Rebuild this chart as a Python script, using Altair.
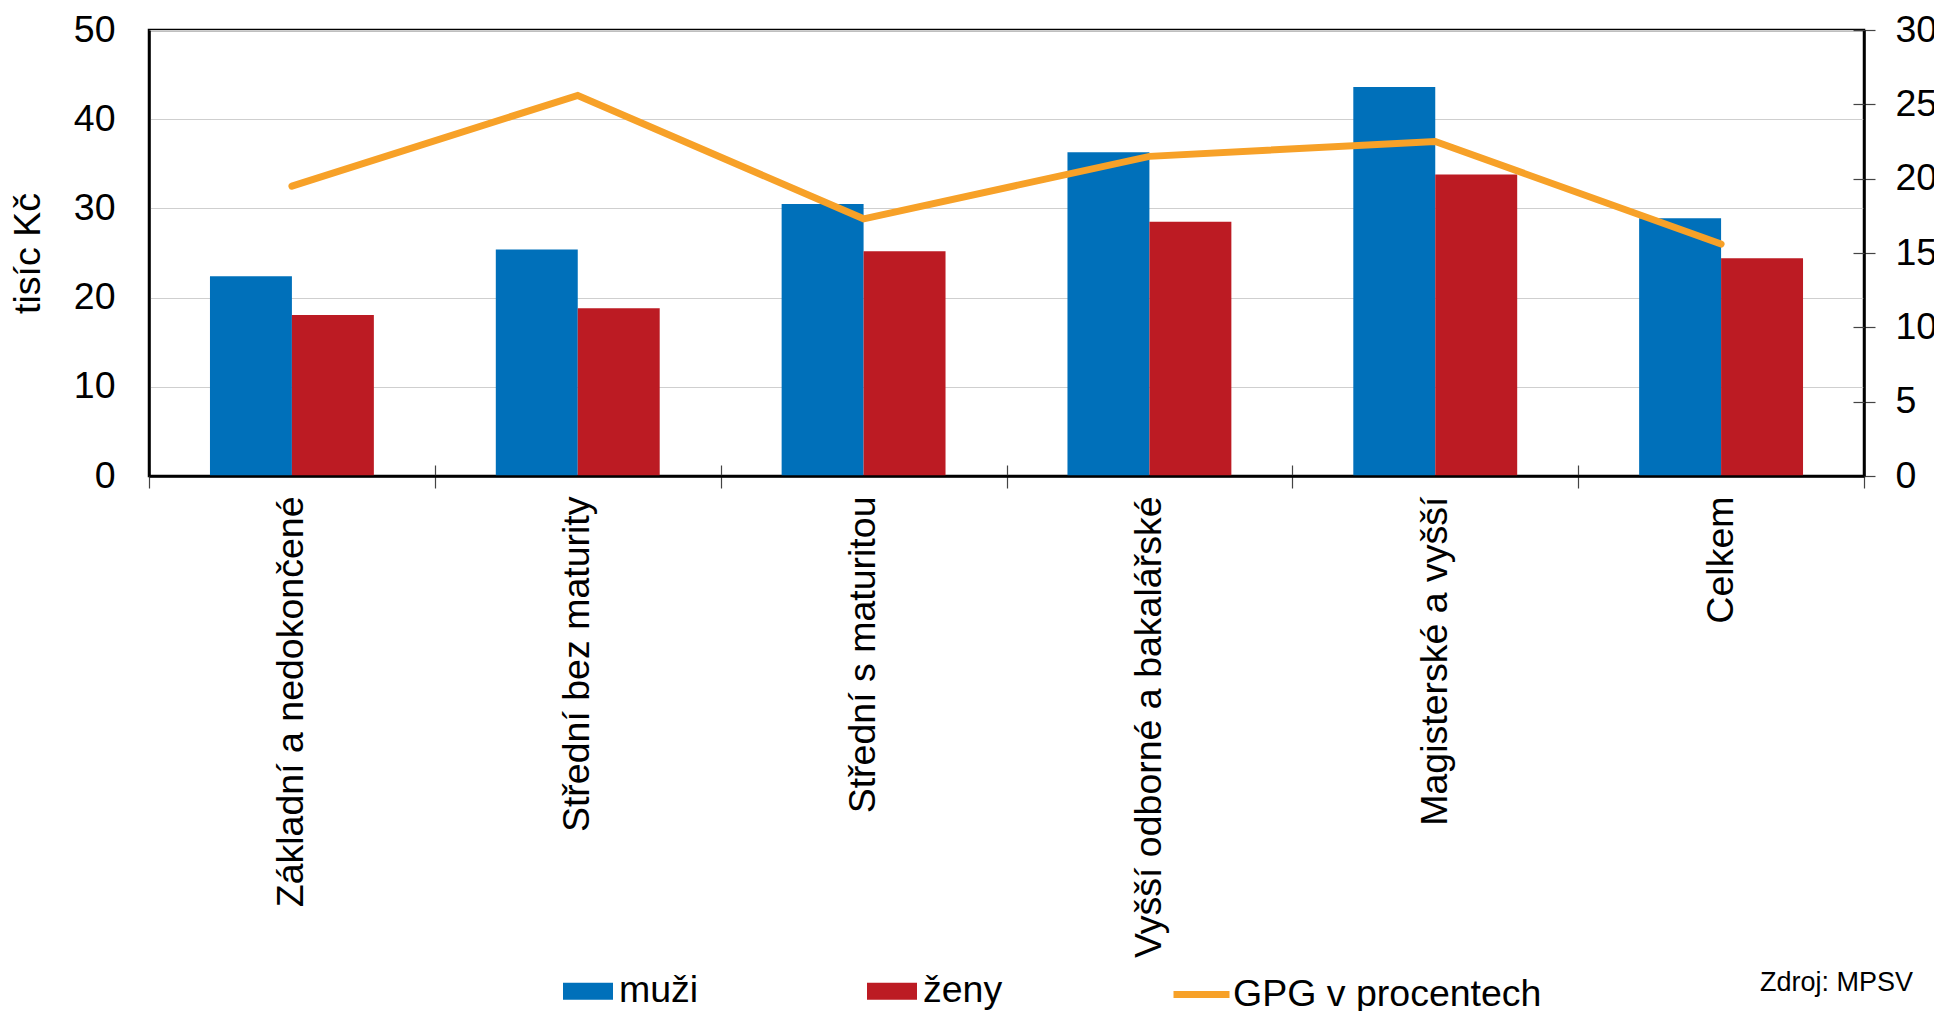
import altair as alt
import pandas as pd

categories = ["Základní a nedokončené", "Střední bez maturity", "Střední s maturitou",
              "Vyšší odborné a bakalářské", "Magisterské a vyšší", "Celkem"]
muzi = [22.4, 25.4, 30.5, 36.3, 43.6, 28.9]
zeny = [18.05, 18.8, 25.2, 28.5, 33.8, 24.4]
gpg = [19.5, 25.6, 17.3, 21.5, 22.5, 15.6]
bar_series = ["muži", "ženy"]
bar_colors = ["#0070BA", "#BC1B23"]
line_series = ["GPG v procentech"]
line_colors = ["#F7A128"]
left_ticks = [0, 10, 20, 30, 40, 50]
right_ticks = [0, 5, 10, 15, 20, 25, 30]
source_note = ["Zdroj: MPSV"]

FONT = "Liberation Sans"
FS = 37.5

bars_df = pd.DataFrame({
    "kategorie": categories * 2,
    "rada": [bar_series[0]] * len(categories) + [bar_series[1]] * len(categories),
    "hodnota": muzi + zeny,
})
line_df = pd.DataFrame({
    "kategorie": categories,
    "rada": [line_series[0]] * len(categories),
    "gpg": gpg,
})
note_df = pd.DataFrame({"t": source_note})

x_axis = alt.Axis(
    title=None, labelAngle=-90, labelAlign="right", labelBaseline="middle",
    labelPadding=8, labelFontSize=FS, labelFont=FONT, labelColor="black", labelLimit=800,
    tickBand="extent", tickSize=12, tickColor="#444444", tickWidth=1.2,
    domainColor="black", domainWidth=2.5, zindex=1,
)

bars = alt.Chart(bars_df).mark_bar().encode(
    x=alt.X("kategorie:N", sort=categories,
            scale=alt.Scale(paddingInner=0, paddingOuter=0), axis=x_axis),
    xOffset=alt.XOffset("rada:N", sort=bar_series,
                        scale=alt.Scale(paddingInner=0, paddingOuter=0.744)),
    y=alt.Y("hodnota:Q", scale=alt.Scale(domain=[0, 50], nice=False),
            axis=alt.Axis(orient="left", title="tisíc Kč", values=left_ticks, ticks=False, grid=True,
                          gridColor="#cfcfcf", gridWidth=1.2,
                          labelFontSize=FS, labelFont=FONT, labelColor="black", labelPadding=34,
                          titleFontSize=FS, titleFont=FONT, titleFontWeight="normal",
                          titleColor="black", titlePadding=26,
                          domainColor="black", domainWidth=2.5)),
    color=alt.Color("rada:N", scale=alt.Scale(domain=bar_series, range=bar_colors),
                    legend=alt.Legend(title=None, orient="none", legendX=414, legendY=936,
                                      direction="horizontal", symbolType="M-1,-0.34H1V0.34H-1Z",
                                      symbolSize=2500, symbolStrokeWidth=0, labelOffset=6,
                                      columnPadding=168, labelFontSize=FS, labelFont=FONT,
                                      labelColor="black", labelLimit=400)),
)

line = alt.Chart(line_df).mark_line(strokeWidth=7, strokeCap="round").encode(
    x=alt.X("kategorie:N", sort=categories, axis=None),
    y=alt.Y("gpg:Q", scale=alt.Scale(domain=[0, 30], nice=False),
            axis=alt.Axis(orient="right", title=None, values=right_ticks, grid=False,
                          tickSize=11, tickColor="#444444", tickWidth=1.2,
                          labelFontSize=FS, labelFont=FONT, labelColor="black", labelPadding=20,
                          domainColor="black", domainWidth=2.5)),
    stroke=alt.Stroke("rada:N", scale=alt.Scale(domain=line_series, range=line_colors),
                      legend=alt.Legend(title=None, orient="none", legendX=1021, legendY=933,
                                        symbolType="stroke", symbolSize=3136, symbolStrokeWidth=7,
                                        labelOffset=0, labelFontSize=FS, labelFont=FONT,
                                        labelColor="black", labelLimit=600)),
)

# invisible copy carrying the inner halves of the crossing ticks
inner_ticks = alt.Chart(line_df).mark_line(opacity=0).encode(
    x=alt.X("kategorie:N", sort=categories,
            axis=alt.Axis(orient="bottom", offset=-11, labels=False, domain=False, title=None,
                          tickBand="extent", tickSize=11, tickColor="#444444", tickWidth=1.2)),
    y=alt.Y("gpg:Q", scale=alt.Scale(domain=[0, 30], nice=False),
            axis=alt.Axis(orient="right", offset=-11, labels=False, domain=False, title=None,
                          values=right_ticks, grid=False, tickSize=11, tickColor="#444444",
                          tickWidth=1.2)),
)

note = alt.Chart(note_df).mark_text(align="right", baseline="middle", fontSize=27, font=FONT,
                                    color="black").encode(
    x=alt.value(1764), y=alt.value(953), text="t:N")

chart = alt.layer(bars, line, inner_ticks, note).resolve_scale(
    y="independent", color="independent"
).resolve_axis(x="independent", y="independent").properties(
    width=1715, height=446,
    autosize=alt.AutoSizeParams(type="none"),
    padding={"left": 141, "top": 22, "right": 70, "bottom": 535},
).configure_view(stroke="black", strokeWidth=2.5)

chart.save("out.html", embed_options={"renderer": "svg", "actions": False})
